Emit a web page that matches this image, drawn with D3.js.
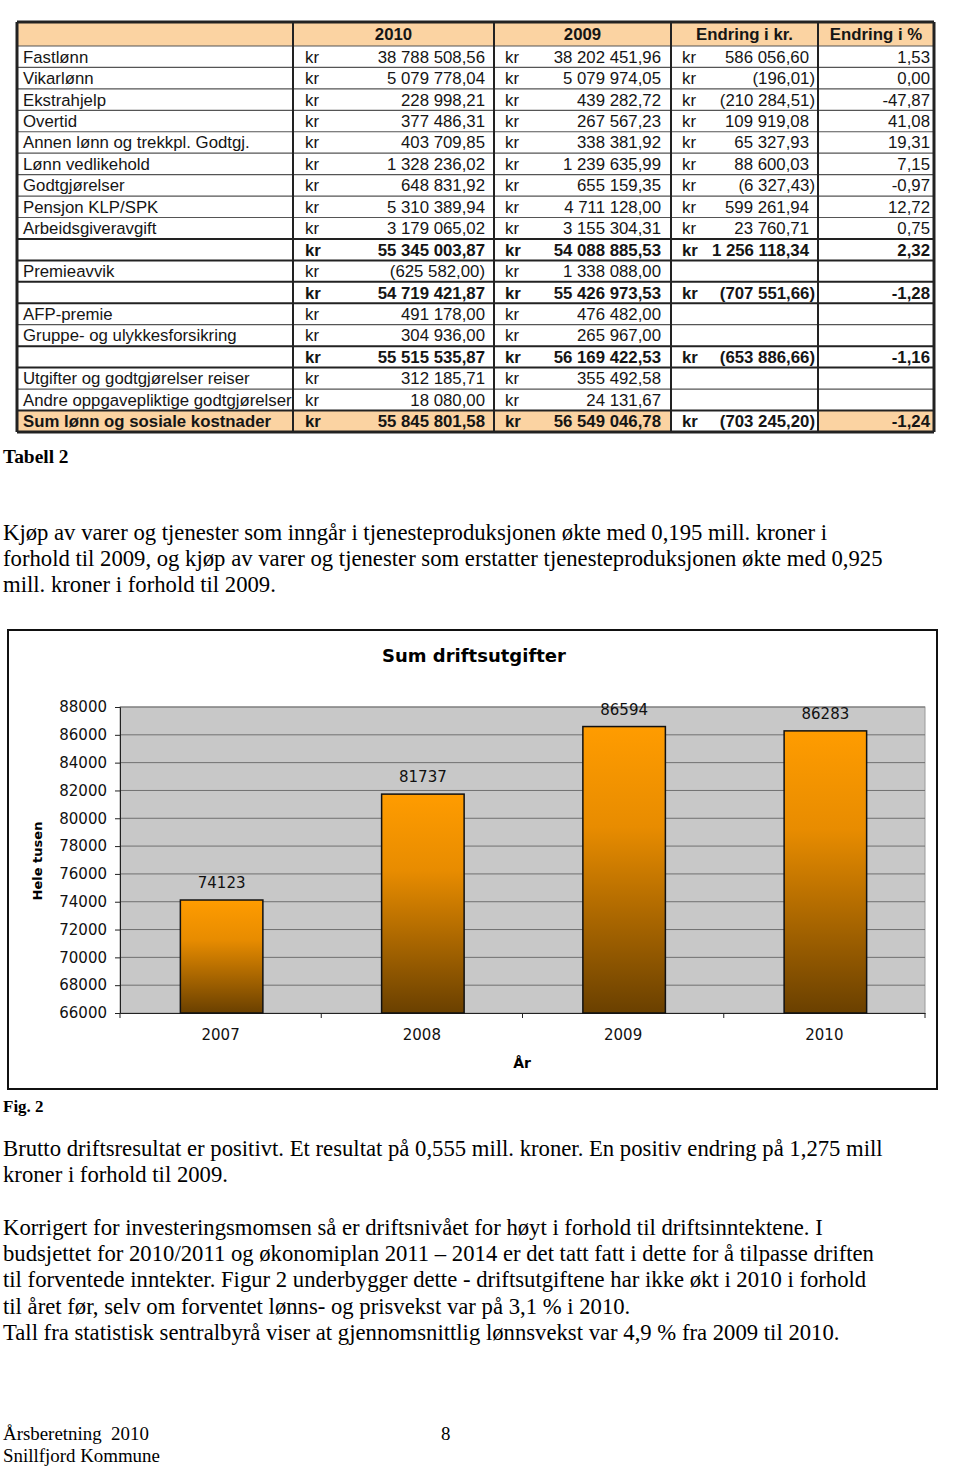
<!DOCTYPE html>
<html><head><meta charset="utf-8">
<script src="https://cdn.jsdelivr.net/npm/d3@7"></script>
<style>
html,body{margin:0;padding:0;background:#fff;}
svg{display:block;}
</style></head>
<body>
<svg id="page" width="960" height="1467"></svg>
<script>
// ---------- DATA ----------
const tableHeaders = ["", "2010", "2009", "Endring i kr.", "Endring i %"];
const rowLabels = ["Fastlønn","Vikarlønn","Ekstrahjelp","Overtid","Annen lønn og trekkpl. Godtgj.","Lønn vedlikehold","Godtgjørelser","Pensjon KLP/SPK","Arbeidsgiveravgift","","Premieavvik","","AFP-premie","Gruppe- og ulykkesforsikring","","Utgifter og godtgjørelser reiser","Andre oppgavepliktige godtgjørelser","Sum lønn og sosiale kostnader"];
const values2010 = ["38 788 508,56","5 079 778,04","228 998,21","377 486,31","403 709,85","1 328 236,02","648 831,92","5 310 389,94","3 179 065,02","55 345 003,87","(625 582,00)","54 719 421,87","491 178,00","304 936,00","55 515 535,87","312 185,71","18 080,00","55 845 801,58"];
const values2009 = ["38 202 451,96","5 079 974,05","439 282,72","267 567,23","338 381,92","1 239 635,99","655 159,35","4 711 128,00","3 155 304,31","54 088 885,53","1 338 088,00","55 426 973,53","476 482,00","265 967,00","56 169 422,53","355 492,58","24 131,67","56 549 046,78"];
const changeKr = ["586 056,60","(196,01)","(210 284,51)","109 919,08","65 327,93","88 600,03","(6 327,43)","599 261,94","23 760,71","1 256 118,34","","(707 551,66)","","","(653 886,66)","","","(703 245,20)"];
const changePct = ["1,53","0,00","-47,87","41,08","19,31","7,15","-0,97","12,72","0,75","2,32","","-1,28","","","-1,16","","","-1,24"];
const rowKinds = ["n","n","n","n","n","n","n","n","n","sub","n","sub","n","n","sub","n","n","sum"];

const years = ["2007","2008","2009","2010"];
const totals = [74123, 81737, 86594, 86283];
const yTickValues = [66000,68000,70000,72000,74000,76000,78000,80000,82000,84000,86000,88000];
const chartTitle = "Sum driftsutgifter";
const yAxisTitle = "Hele tusen";
const xAxisTitle = "År";

const para1 = ["Kjøp av varer og tjenester som inngår i tjenesteproduksjonen økte med 0,195 mill. kroner i",
  "forhold til 2009, og kjøp av varer og tjenester som erstatter tjenesteproduksjonen økte med 0,925",
  "mill. kroner i forhold til 2009."];
const para2 = ["Brutto driftsresultat er positivt. Et resultat på 0,555 mill. kroner. En positiv endring på 1,275 mill",
  "kroner i forhold til 2009."];
const para3 = ["Korrigert for investeringsmomsen så er driftsnivået for høyt i forhold til driftsinntektene. I",
  "budsjettet for 2010/2011 og økonomiplan 2011 – 2014 er det tatt fatt i dette for å tilpasse driften",
  "til forventede inntekter. Figur 2 underbygger dette - driftsutgiftene har ikke økt i 2010 i forhold",
  "til året før, selv om forventet lønns- og prisvekst var på 3,1 % i 2010.",
  "Tall fra statistisk sentralbyrå viser at gjennomsnittlig lønnsvekst var 4,9 % fra 2009 til 2010."];

// ---------- PAGE ----------
const svg = d3.select("#page");
svg.append("rect").attr("width",960).attr("height",1467).attr("fill","#fff");

// ---------- TABLE ----------
const T = {left:17, right:934, top:22, headH:24, rowH:21.44};
const colX = [17, 293, 494, 671, 818, 934];
const peach = "#fbd3a2";
const FS = 16.8;
const tbl = svg.append("g").attr("font-family","'Liberation Sans', Arial, sans-serif").attr("fill","#151515");
const rowsTop = T.top + T.headH;
const rowY = i => rowsTop + i*T.rowH;
const nRows = rowLabels.length;
const tBottom = rowY(nRows);

tbl.append("rect").attr("x",T.left).attr("y",T.top).attr("width",T.right-T.left).attr("height",T.headH).attr("fill",peach);
rowKinds.forEach((k,i)=>{
  if(k==="sum"){
    [[0,3],[4,5]].forEach(([a,b])=>{
      tbl.append("rect").attr("x",colX[a]).attr("y",rowY(i)).attr("width",colX[b]-colX[a]).attr("height",T.rowH).attr("fill",peach);
    });
  }
});
tableHeaders.forEach((h,j)=>{
  if(!h) return;
  tbl.append("text").attr("x",(colX[j]+colX[j+1])/2).attr("y",T.top+T.headH/2+6)
    .attr("text-anchor","middle").attr("font-size",FS).attr("font-weight","bold").text(h);
});
for(let i=0;i<=nRows;i++){
  const thick = (i<nRows && rowKinds[i]!=="n") || (i>0 && rowKinds[i-1]!=="n");
  tbl.append("line").attr("x1",T.left).attr("x2",T.right).attr("y1",rowY(i)).attr("y2",rowY(i))
    .attr("stroke", thick ? "#222" : "#555").attr("stroke-width", thick?2:1.2);
}
colX.forEach((x,j)=>{
  tbl.append("line").attr("x1",x).attr("x2",x).attr("y1",T.top).attr("y2",tBottom)
    .attr("stroke","#222").attr("stroke-width",(j===0||j===colX.length-1)?3:2);
});
tbl.append("line").attr("x1",T.left).attr("x2",T.right).attr("y1",T.top).attr("y2",T.top).attr("stroke","#222").attr("stroke-width",3);
tbl.append("line").attr("x1",T.left).attr("x2",T.right).attr("y1",tBottom).attr("y2",tBottom).attr("stroke","#222").attr("stroke-width",3);

rowLabels.forEach((lab,i)=>{
  const bl = rowY(i)+T.rowH/2+6;
  const bold = rowKinds[i]!=="n" ? "bold":"normal";
  const g = tbl.append("g").attr("font-size",FS).attr("font-weight",bold);
  if(lab) g.append("text").attr("x",23).attr("y",bl).attr("font-weight", rowKinds[i]==="sum"?"bold":"normal").text(lab);
  g.append("text").attr("x",305).attr("y",bl).text("kr");
  g.append("text").attr("x",485).attr("y",bl).attr("text-anchor","end").text(values2010[i]);
  g.append("text").attr("x",505).attr("y",bl).text("kr");
  g.append("text").attr("x",661).attr("y",bl).attr("text-anchor","end").text(values2009[i]);
  if(changeKr[i]){
    g.append("text").attr("x",682).attr("y",bl).text("kr");
    const paren = changeKr[i].startsWith("(");
    g.append("text").attr("x",paren?815:809).attr("y",bl).attr("text-anchor","end").text(changeKr[i]);
  }
  if(changePct[i]) g.append("text").attr("x",930).attr("y",bl).attr("text-anchor","end").text(changePct[i]);
});

// ---------- BODY TEXT ----------
const serif = "'Liberation Serif','Times New Roman',serif";
function lines(arr, y0, size){
  svg.append("g").attr("font-family",serif).attr("font-size",size).attr("fill","#000")
    .selectAll("text").data(arr).join("text").attr("x",3).attr("y",(d,i)=>y0+i*26.2).text(d=>d);
}
svg.append("text").attr("x",3).attr("y",463).attr("font-family",serif).attr("font-size",19.4).attr("font-weight","bold").text("Tabell 2");
lines(para1, 540, 22.7);
lines(para2, 1156, 22.7);
lines(para3, 1235, 22.7);
svg.append("text").attr("x",3).attr("y",1112).attr("font-family",serif).attr("font-size",17).attr("font-weight","bold").text("Fig. 2");
svg.append("text").attr("x",3).attr("y",1440).attr("font-family",serif).attr("font-size",18.9).attr("xml:space","preserve").text("Årsberetning  2010");
svg.append("text").attr("x",441).attr("y",1440).attr("font-family",serif).attr("font-size",18.9).text("8");
svg.append("text").attr("x",3).attr("y",1462).attr("font-family",serif).attr("font-size",18.9).text("Snillfjord Kommune");

// ---------- CHART ----------
const C = {left:120, right:925, top:707, bottom:1013};
const chart = svg.append("g").attr("font-family","'DejaVu Sans', Verdana, sans-serif");
chart.append("rect").attr("x",8).attr("y",630).attr("width",929).attr("height",459)
  .attr("fill","#fff").attr("stroke","#111").attr("stroke-width",2);

const defs = svg.append("defs");
const grad = defs.append("linearGradient").attr("id","barGrad").attr("x1",0).attr("y1",0).attr("x2",0).attr("y2",1);
grad.append("stop").attr("offset","0%").attr("stop-color","#ff9c00");
grad.append("stop").attr("offset","35%").attr("stop-color","#e88c00");
grad.append("stop").attr("offset","100%").attr("stop-color","#6a4000");

const x = d3.scaleBand().domain(years).range([C.left, C.right]).paddingInner(0).paddingOuter(0);
const y = d3.scaleLinear().domain([66000, 88000]).range([C.bottom, C.top]);

chart.append("rect").attr("x",C.left).attr("y",C.top).attr("width",C.right-C.left).attr("height",C.bottom-C.top)
  .attr("fill","#c8c8c8").attr("stroke","#9a9a9a").attr("stroke-width",1);

chart.append("g").selectAll("line").data(yTickValues.slice(1)).join("line")
  .attr("x1",C.left).attr("x2",C.right).attr("y1",d=>y(d)).attr("y2",d=>y(d))
  .attr("stroke","#707070").attr("stroke-width",1);

const yAxis = chart.append("g").attr("transform",`translate(${C.left},0)`)
  .call(d3.axisLeft(y).tickValues(yTickValues).tickSize(5).tickPadding(8).tickFormat(d3.format("d")));
yAxis.selectAll("text").attr("font-size",15).attr("fill","#111").attr("font-family","'DejaVu Sans', Verdana, sans-serif");
yAxis.selectAll("line,path").attr("stroke","#222");

const xAxis = chart.append("g").attr("transform",`translate(0,${C.bottom})`)
  .call(d3.axisBottom(x).tickSize(0).tickPadding(16));
xAxis.selectAll("text").attr("font-size",15).attr("fill","#111").attr("font-family","'DejaVu Sans', Verdana, sans-serif");
xAxis.select("path").attr("stroke","#222");
chart.append("g").selectAll("line").data(years.concat(["end"])).join("line")
  .attr("x1",d=>d==="end"?C.right:x(d)).attr("x2",d=>d==="end"?C.right:x(d))
  .attr("y1",C.bottom).attr("y2",C.bottom+5).attr("stroke","#222");

const bw = x.bandwidth()*0.41;
const bars = chart.append("g").selectAll("g").data(years.map((yr,i)=>({yr, v:totals[i]}))).join("g");
bars.append("rect")
  .attr("x",d=>x(d.yr)+x.bandwidth()/2-bw/2+1)
  .attr("y",d=>y(d.v)).attr("width",bw).attr("height",d=>C.bottom-y(d.v))
  .attr("fill","url(#barGrad)").attr("stroke","#111").attr("stroke-width",1.5);
bars.append("text")
  .attr("x",d=>x(d.yr)+x.bandwidth()/2+1).attr("y",d=>y(d.v)-12)
  .attr("text-anchor","middle").attr("font-size",15).attr("fill","#111").text(d=>d.v);

chart.append("text").attr("x",474).attr("y",662).attr("text-anchor","middle")
  .attr("font-size",18).attr("font-weight","bold").attr("fill","#000").text(chartTitle);
chart.append("text").attr("transform","translate(42,861) rotate(-90)").attr("text-anchor","middle")
  .attr("font-size",13).attr("font-weight","bold").attr("fill","#000").text(yAxisTitle);
chart.append("text").attr("x",522).attr("y",1068).attr("text-anchor","middle")
  .attr("font-size",14).attr("font-weight","bold").attr("fill","#000").text(xAxisTitle);
</script>
</body></html>
